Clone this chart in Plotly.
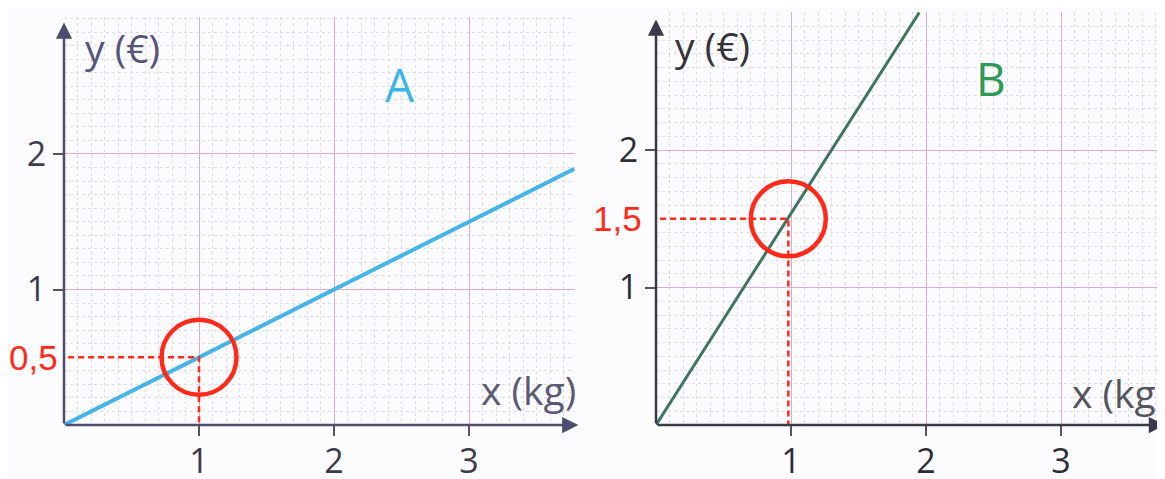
import plotly.graph_objects as go

# --- data ---
a_x = [0, 3.78]
a_y = [0, 1.89]
b_x = [0, 1.95]
b_y = [0, 3.0]

a_point = (1, 0.5)
b_point = (0.98, 1.5)
a_label = "0,5"
b_label = "1,5"

x_ticks = [1, 2, 3]
y_ticks = [1, 2]
tick_text_x = ["1", "2", "3"]
tick_text_y = ["1", "2"]

RED = "#ff2a1a"
PINK = "#dcaad4"
FINE = "#dedde6"
BG = "#fcfbfd"
FONT = "Open Sans"

W, H = 1165, 479
OFF = 8  # the page body margin shifts the figure by 8px


def px_x(p):
    return (p - OFF) / W


def px_y(p):
    return (H - (p - OFF)) / H


panels = {
    "A": dict(xd=[px_x(64), px_x(575)], yd=[px_y(425), px_y(17)], xr=[0, 3.785], yr=[0, 3.011],
              axis_col="#4d4d70", lab_col="#55557a", tick_col="#3c3c4c"),
    "B": dict(xd=[px_x(656), px_x(1165)], yd=[px_y(425), px_y(12)], xr=[0, 3.77], yr=[0, 3.004],
              axis_col="#3a3a48", lab_col="#333338", tick_col="#2e2e36"),
}

fig = go.Figure()

# main lines
fig.add_trace(go.Scatter(x=a_x, y=a_y, mode="lines", line=dict(color="#46b4e6", width=4),
                         xaxis="x", yaxis="y", hoverinfo="skip"))
fig.add_trace(go.Scatter(x=b_x, y=b_y, mode="lines", line=dict(color="#3f7460", width=3),
                         xaxis="x2", yaxis="y2", hoverinfo="skip"))

# red dashed guides + circles
for (px, py), xa, ya in [(a_point, "x", "y"), (b_point, "x2", "y2")]:
    fig.add_trace(go.Scatter(x=[0.03, px, px], y=[py, py, 0], mode="lines",
                             line=dict(color=RED, width=2.5, dash="6px,4px"),
                             xaxis=xa, yaxis=ya, hoverinfo="skip"))
    fig.add_trace(go.Scatter(x=[px], y=[py], mode="markers",
                             marker=dict(symbol="circle-open", size=75, color=RED, line=dict(width=4.5, color=RED)),
                             xaxis=xa, yaxis=ya, hoverinfo="skip"))


def axis_pair(n, cfg):
    sx = "" if n == 1 else str(n)
    ox, oy = n + 2, n + 2  # overlay axes for the 0.5 pink grid
    tfont = dict(family=FONT, size=34, color=cfg["tick_col"])
    fine = dict(dtick=0.1, tick0=0, showgrid=True, gridcolor=FINE, griddash="dot", gridwidth=1)
    base = dict(tickmode="array", ticks="outside", ticklen=10, tickwidth=1.5, tickcolor="#555",
                tickfont=tfont, showgrid=True, gridcolor=PINK, gridwidth=1, zeroline=False,
                showline=False, fixedrange=True, automargin=False, minor=fine)
    xa = dict(base, domain=cfg["xd"], range=cfg["xr"], anchor="y" + sx,
              tickvals=x_ticks, ticktext=tick_text_x, ticklabelstandoff=-4)
    ya = dict(base, domain=cfg["yd"], range=cfg["yr"], anchor="x" + sx,
              tickvals=y_ticks, ticktext=tick_text_y)
    over = dict(dtick=0.5, tick0=0, showticklabels=False, ticks="", showgrid=True, gridcolor=PINK,
                zeroline=False, automargin=False, fixedrange=True)
    oxa = dict(over, overlaying="x" + sx, anchor="y%d" % oy, range=cfg["xr"])
    oya = dict(over, overlaying="y" + sx, anchor="x%d" % ox, range=cfg["yr"])
    return {"xaxis" + sx: xa, "yaxis" + sx: ya, "xaxis%d" % ox: oxa, "yaxis%d" % oy: oya}


layout_axes = {}
layout_axes.update(axis_pair(1, panels["A"]))
layout_axes.update(axis_pair(2, panels["B"]))

annotations = []
for name, sx, cfg, lbl_col, lbl_xy, tip_x, tip_y in [
    ("A", "", panels["A"], "#3cb6e6", (400, 84), 3.81, 2.97),
    ("B", "2", panels["B"], "#2e9a55", (991, 78), 3.77, 2.95),
]:
    xr, yr = "x" + sx, "y" + sx
    # axes with arrowheads
    annotations.append(dict(x=tip_x, y=0, ax=0, ay=0, xref=xr, yref=yr, axref=xr, ayref=yr, text="",
                            showarrow=True, arrowhead=2, arrowsize=1.3, arrowwidth=2.5, arrowcolor=cfg["axis_col"]))
    annotations.append(dict(x=0, y=tip_y, ax=0, ay=0, xref=xr, yref=yr, axref=xr, ayref=yr, text="",
                            showarrow=True, arrowhead=2, arrowsize=1.3, arrowwidth=2.5, arrowcolor=cfg["axis_col"]))
    # panel letter
    annotations.append(dict(x=px_x(lbl_xy[0]), y=px_y(lbl_xy[1]), xref="paper", yref="paper", text=name,
                            showarrow=False, xanchor="center", yanchor="middle",
                            font=dict(family=FONT, size=46, color=lbl_col)))

# axis titles
annotations += [
    dict(x=px_x(122), y=px_y(47), xref="paper", yref="paper", text="y (€)", showarrow=False,
         xanchor="center", yanchor="middle", font=dict(family=FONT, size=39, color=panels["A"]["lab_col"])),
    dict(x=px_x(712), y=px_y(45), xref="paper", yref="paper", text="y (€)", showarrow=False,
         xanchor="center", yanchor="middle", font=dict(family=FONT, size=39, color=panels["B"]["lab_col"])),
    dict(x=px_x(528), y=px_y(389), xref="paper", yref="paper", text="x (kg)", showarrow=False,
         xanchor="center", yanchor="middle", font=dict(family=FONT, size=39, color="#5a5a72")),
    dict(x=px_x(1070), y=px_y(392), xref="paper", yref="paper", text="x (kg)", showarrow=False,
         xanchor="left", yanchor="middle", font=dict(family=FONT, size=39, color="#55555f")),
]

# red value labels
annotations += [
    dict(x=0, y=a_point[1], xref="x", yref="y", text=a_label, showarrow=False, xanchor="right",
         xshift=-4, font=dict(family="Liberation Sans", size=35, color=RED)),
    dict(x=0, y=b_point[1], xref="x2", yref="y2", text=b_label, showarrow=False, xanchor="right",
         xshift=-12, font=dict(family="Liberation Sans", size=35, color=RED)),
]

fig.update_layout(
    width=W, height=H,
    margin=dict(l=0, r=0, t=0, b=0, autoexpand=False),
    paper_bgcolor=BG, plot_bgcolor=BG,
    showlegend=False,
    annotations=annotations,
    **layout_axes,
)

fig.write_html("out.html")
